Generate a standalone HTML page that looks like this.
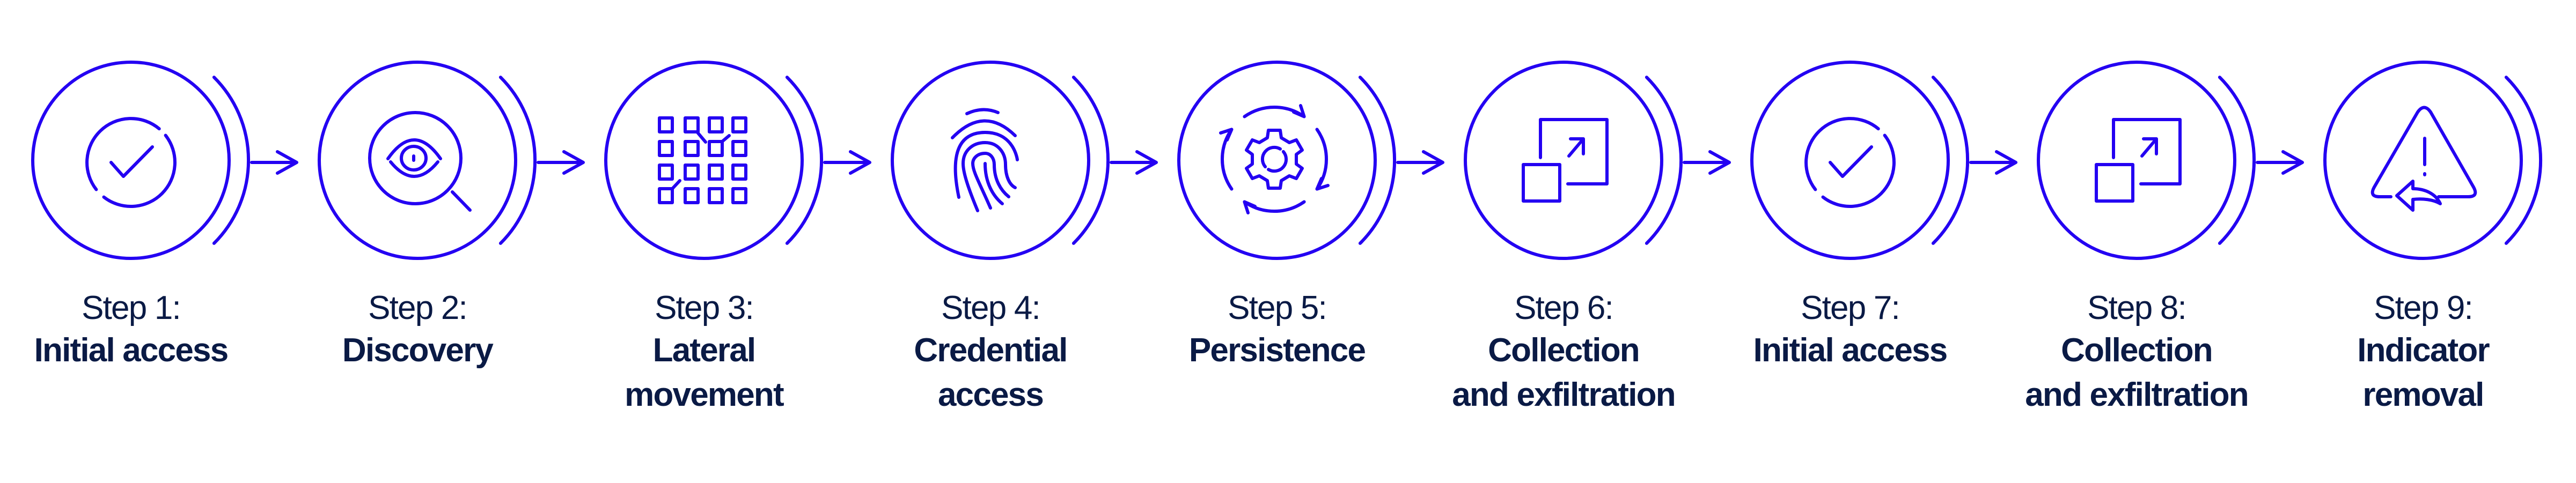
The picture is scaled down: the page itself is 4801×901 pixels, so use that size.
<!DOCTYPE html>
<html><head><meta charset="utf-8"><style>
html,body{margin:0;padding:0;background:#fff;}
svg{display:block}
.s{fill:none;stroke:#2400f2;stroke-width:6;stroke-linecap:round;stroke-linejoin:round}
text{font-family:"Liberation Sans",sans-serif;font-size:62px;fill:#0a1a45;text-anchor:middle;letter-spacing:-1.8px}
.b{font-weight:bold}
</style></head><body>
<svg width="4801" height="901" viewBox="0 0 4801 901" xmlns="http://www.w3.org/2000/svg">
<defs>
<g id="ring" class="s">
<circle cx="0" cy="299" r="183"/>
<path d="M154.9,144.1 A219,219 0 0 1 154.9,453.9"/>
</g>
<g id="arrow" class="s">
<path d="M225,303 L308,303 M273,283 L309,303 L273,323"/>
</g>
<g id="check" class="s">
<path d="M64.6,252.5 A82,82 0 0 1 -50.5,367.6"/>
<path d="M-64.6,353.5 A82,82 0 0 1 52.7,240.2"/>
<path d="M-37,303 L-14,329 L40,274"/>
</g>
<g id="exfil" class="s">
<path d="M-43,294 L-43,223 L81,223 L81,343 L8,343"/>
<rect x="-75" y="307" width="68" height="68"/>
<path d="M10,291 L37,259 M13,259 L37,259 L37,287"/>
</g>
</defs>

<!-- rings -->
<use href="#ring" x="244"/><use href="#ring" x="778"/><use href="#ring" x="1312"/>
<use href="#ring" x="1846"/><use href="#ring" x="2380"/><use href="#ring" x="2914"/>
<use href="#ring" x="3448"/><use href="#ring" x="3982"/><use href="#ring" x="4516"/>
<!-- arrows -->
<use href="#arrow" x="244"/><use href="#arrow" x="778"/><use href="#arrow" x="1312"/>
<use href="#arrow" x="1846"/><use href="#arrow" x="2380"/><use href="#arrow" x="2914"/>
<use href="#arrow" x="3448"/><use href="#arrow" x="3982"/>

<!-- icon 1 & 7 -->
<use href="#check" x="244"/>
<use href="#check" x="3448"/>

<!-- icon 2: eye magnifier -->
<g class="s">
<circle cx="774" cy="295" r="85"/>
<path d="M843,358 L876,392"/>
<path d="M723,296 Q772,226 821,296"/>
<path d="M728,302 Q772,356 816,302"/>
<ellipse cx="771" cy="295" rx="23" ry="22"/>
<path d="M771,291 L771,299"/>
</g>

<!-- icon 3: grid -->
<g class="s">
<rect x="1229" y="220" width="24" height="26"/><rect x="1277" y="220" width="24" height="26"/><rect x="1322" y="220" width="24" height="26"/><rect x="1366" y="220" width="24" height="26"/>
<rect x="1229" y="264" width="24" height="26"/><rect x="1277" y="264" width="24" height="26"/><rect x="1322" y="264" width="24" height="26"/><rect x="1366" y="264" width="24" height="26"/>
<rect x="1229" y="308" width="24" height="26"/><rect x="1277" y="308" width="24" height="26"/><rect x="1322" y="308" width="24" height="26"/><rect x="1366" y="308" width="24" height="26"/>
<rect x="1229" y="352" width="24" height="26"/><rect x="1277" y="352" width="24" height="26"/><rect x="1322" y="352" width="24" height="26"/><rect x="1366" y="352" width="24" height="26"/>
<path d="M1299,246 L1315,265 M1346,264 L1359,253 M1253,352 L1267,337"/>
</g>

<!-- icon 4: fingerprint -->
<g class="s">
<path d="M1802,212 Q1832,198 1860,210"/>
<path d="M1775,257 Q1834,196 1892,253"/>
<path d="M1787,368 C1777,320 1770,247 1836,247 C1890,247 1896,298 1896,298"/>
<path d="M1822,393 C1802,345 1795,320 1795,305 C1795,282 1812,266 1836,266 C1860,266 1874,285 1874,307 C1874,330 1882,345 1892,350"/>
<path d="M1846,388 C1825,340 1813,320 1813,305 C1813,295 1822,286 1836,286 C1846,286 1853,295 1853,307 C1853,335 1865,355 1880,367"/>
<path d="M1836,305 C1836,340 1850,365 1868,380"/>
</g>

<!-- icon 5: gear with cycle arrows -->
<g class="s" transform="translate(2375,297)">
<polygon points="-13,-40 -11,-54 11,-54 13,-40 28,-31 41,-36 52,-17 41,-9 41,9 52,17 41,36 28,31 13,40 11,54 -11,54 -13,40 -28,31 -41,36 -52,17 -41,9 -41,-9 -52,-17 -41,-36 -28,-31"/>
<path d="M16.9,-14.1 A22,22 0 0 1 -11,19.1"/>
<path d="M-16.9,14.1 A22,22 0 0 1 11,-19.1"/>
<path d="M-55.6,-79.5 A97,97 0 0 1 55.6,-79.5 M36,-88 L55.6,-79.5 L49,-100"/>
<path d="M79.5,-55.6 A97,97 0 0 1 79.5,55.6 M88,36 L79.5,55.6 L100,49"/>
<path d="M55.6,79.5 A97,97 0 0 1 -55.6,79.5 M-36,88 L-55.6,79.5 L-49,100"/>
<path d="M-79.5,55.6 A97,97 0 0 1 -79.5,-55.6 M-88,-36 L-79.5,-55.6 L-100,-49"/>
</g>

<!-- icon 6 & 8 -->
<use href="#exfil" x="2914"/>
<use href="#exfil" x="3982"/>

<!-- icon 9: warning triangle with reply -->
<g class="s">
<path d="M4456,367 L4435,367 Q4415,367 4425,349 L4506,209 Q4518,192 4530,209 L4610,349 Q4620,367 4600,367 L4545,367"/>
<path d="M4519,258 L4519,307"/>
<path d="M4519,324 L4519,326"/>
<path d="M4497,338 L4467,365 L4497,392 L4497,372 C4515,370 4535,372 4548,380 C4540,362 4520,352 4497,352 Z"/>
</g>

<!-- labels -->
<text x="244" y="595">Step 1:</text><text class="b" x="244" y="674">Initial access</text>
<text x="778" y="595">Step 2:</text><text class="b" x="778" y="674">Discovery</text>
<text x="1312" y="595">Step 3:</text><text class="b" x="1312" y="674">Lateral</text><text class="b" x="1312" y="757">movement</text>
<text x="1846" y="595">Step 4:</text><text class="b" x="1846" y="674">Credential</text><text class="b" x="1846" y="757">access</text>
<text x="2380" y="595">Step 5:</text><text class="b" x="2380" y="674">Persistence</text>
<text x="2914" y="595">Step 6:</text><text class="b" x="2914" y="674">Collection</text><text class="b" x="2914" y="757">and exfiltration</text>
<text x="3448" y="595">Step 7:</text><text class="b" x="3448" y="674">Initial access</text>
<text x="3982" y="595">Step 8:</text><text class="b" x="3982" y="674">Collection</text><text class="b" x="3982" y="757">and exfiltration</text>
<text x="4516" y="595">Step 9:</text><text class="b" x="4516" y="674">Indicator</text><text class="b" x="4516" y="757">removal</text>
</svg>
</body></html>
